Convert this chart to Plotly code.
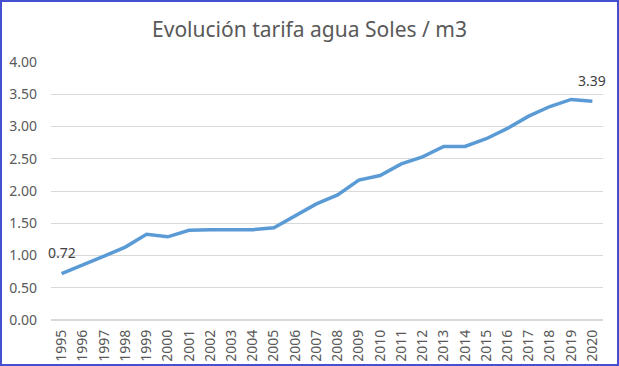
import plotly.graph_objects as go

years = [str(y) for y in range(1995, 2021)]
tarifa = [0.72, 0.85, 0.99, 1.13, 1.33, 1.29, 1.39, 1.40, 1.40, 1.40, 1.43, 1.61, 1.80, 1.94,
          2.17, 2.24, 2.42, 2.53, 2.69, 2.69, 2.81, 2.97, 3.16, 3.31, 3.42, 3.39]
y_ticks = [0, 0.5, 1.0, 1.5, 2.0, 2.5, 3.0, 3.5, 4.0]
title_text = "Evolución tarifa agua Soles / m3"
labeled_idx = [0, len(years) - 1]

W, H = 619, 366
ml, mr, mt, mb = 51, 16, 62, 46

fig = go.Figure()
fig.add_trace(go.Scatter(
    x=years, y=tarifa, mode="lines",
    line=dict(color="#5B9BD5", width=3.5),
    hoverinfo="x+y", showlegend=False,
))

for i in labeled_idx:
    fig.add_annotation(
        x=i, y=tarifa[i], xref="x", yref="y",
        text=f"{tarifa[i]:.2f}", showarrow=False, yshift=21,
        font=dict(family="Noto Sans, Open Sans, sans-serif", size=14, color="#404040"),
    )

pw = W - ml - mr
ph = H - mt - mb
fig.add_shape(
    type="rect", xref="paper", yref="paper",
    x0=(1 - ml) / pw, x1=(W - 1 - ml) / pw,
    y0=-(mb - 1) / ph, y1=1 + (mt - 1) / ph,
    line=dict(color="#4550D0", width=2), fillcolor="rgba(0,0,0,0)", layer="above",
)

fig.update_layout(
    width=W, height=H,
    margin=dict(l=ml, r=mr, t=mt, b=mb, autoexpand=False),
    paper_bgcolor="white", plot_bgcolor="white",
    title=dict(text=title_text, x=0.5, xref="container", xanchor="center", y=1 - 30 / H, yanchor="middle",
               font=dict(family="Noto Sans, Open Sans, sans-serif", size=21, color="#595959")),
    font=dict(family="Noto Sans, sans-serif", color="#595959"),
    xaxis=dict(
        type="category", tickangle=-90, tickfont=dict(size=14, color="#595959"),
        showgrid=False, showline=False, zeroline=False, ticks="",
        range=[-0.5, len(years) - 0.5], automargin=False, ticklabelstandoff=6,
    ),
    yaxis=dict(
        range=[0, 4], tickvals=y_ticks, ticktext=[f"{v:.2f}" for v in y_ticks],
        tickfont=dict(size=14, color="#595959"),
        showgrid=True, gridcolor="#D9D9D9", gridwidth=1, zeroline=True, zerolinecolor="#D9D9D9",
        showline=False, ticks="", ticklabelstandoff=13, automargin=False,
    ),
)

fig.write_html("out.html", config={"displayModeBar": False},
               post_script="document.body.style.margin='0';document.body.style.padding='0';")
